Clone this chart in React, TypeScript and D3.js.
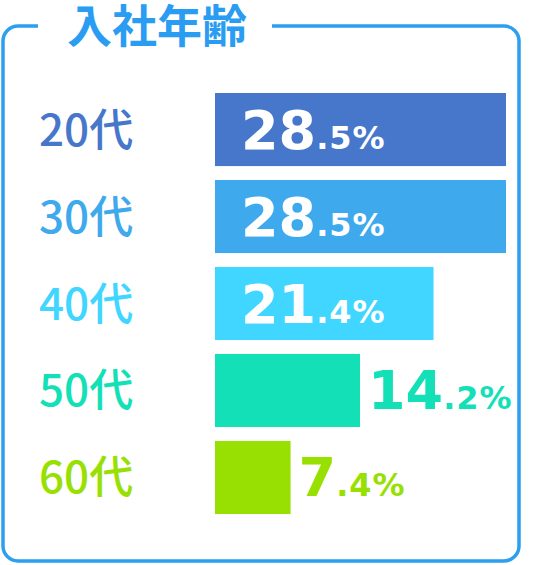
import React, { useEffect, useRef } from "react";
import * as d3 from "d3";

// 入社年齢 data
const categories = ["20代", "30代", "40代", "50代", "60代"];
const values = [28.5, 28.5, 21.4, 14.2, 7.4];
const colors = ["#4677CB", "#3FA9EE", "#40D6FF", "#14E0B8", "#98E002"];
const title = "入社年齢";

const WIDTH = 540;
const HEIGHT = 565;
const FRAME = "#2D9FEF";

export default function App() {
  const ref = useRef<SVGSVGElement>(null);

  useEffect(() => {
    if (!ref.current) return;
    const svg = d3.select(ref.current);
    svg.selectAll("*").remove();

    // frame with a gap in the top edge for the title
    const fx = 3, fy = 26, fw = 516, fh = 535, r = 15;
    const frame = d3.path();
    frame.moveTo(38, fy);
    frame.lineTo(fx + r, fy);
    frame.arcTo(fx, fy, fx, fy + r, r);
    frame.lineTo(fx, fy + fh - r);
    frame.arcTo(fx, fy + fh, fx + r, fy + fh, r);
    frame.lineTo(fx + fw - r, fy + fh);
    frame.arcTo(fx + fw, fy + fh, fx + fw, fy + fh - r, r);
    frame.lineTo(fx + fw, fy + r);
    frame.arcTo(fx + fw, fy, fx + fw - r, fy, r);
    frame.lineTo(272, fy);

    svg
      .append("path")
      .attr("d", frame.toString())
      .attr("fill", "none")
      .attr("stroke", FRAME)
      .attr("stroke-width", 3.5);

    svg
      .append("text")
      .attr("x", 67)
      .attr("y", 43)
      .attr("fill", "#2A9DF2")
      .attr("font-family", "'Noto Sans CJK JP', sans-serif")
      .attr("font-weight", 700)
      .attr("font-size", 45)
      .text(title);

    const x = d3
      .scaleLinear()
      .domain([0, d3.max(values) as number])
      .range([215, 506]);

    const y = d3
      .scaleBand<string>()
      .domain(categories)
      .range([93, 514])
      .paddingInner(0.16)
      .paddingOuter(0);

    const rows = svg
      .selectAll("g.row")
      .data(categories)
      .join("g")
      .attr("class", "row");

    rows
      .append("rect")
      .attr("x", x(0))
      .attr("y", (d) => y(d) as number)
      .attr("width", (_, i) => x(values[i]) - x(0))
      .attr("height", y.bandwidth())
      .attr("fill", (_, i) => colors[i]);

    rows
      .append("text")
      .attr("x", 39)
      .attr("y", (d) => (y(d) as number) + y.bandwidth() / 2 + 16)
      .attr("fill", (_, i) => colors[i])
      .attr("font-family", "'Noto Sans CJK JP', sans-serif")
      .attr("font-weight", 500)
      .attr("font-size", 44)
      .text((d) => d);

    // value labels: inside bar if wide enough, else just after it
    const label = rows
      .append("text")
      .attr("x", (_, i) => (values[i] > 20 ? x(0) + 26 : x(values[i]) + 8))
      .attr("y", (d) => (y(d) as number) + y.bandwidth() / 2 + 19)
      .attr("fill", (_, i) => (values[i] > 20 ? "#ffffff" : colors[i]))
      .attr("font-family", "'DejaVu Sans', sans-serif")
      .attr("font-weight", 700);

    label
      .append("tspan")
      .attr("font-size", 54)
      .text((_, i) => values[i].toFixed(1).split(".")[0]);

    label
      .append("tspan")
      .attr("font-size", 32)
      .attr("letter-spacing", 1)
      .text((_, i) => "." + values[i].toFixed(1).split(".")[1] + "%");
  }, []);

  return (
    <svg
      ref={ref}
      width={WIDTH}
      height={HEIGHT}
      style={{ position: "absolute", left: 0, top: 0, background: "#fff" }}
    />
  );
}
